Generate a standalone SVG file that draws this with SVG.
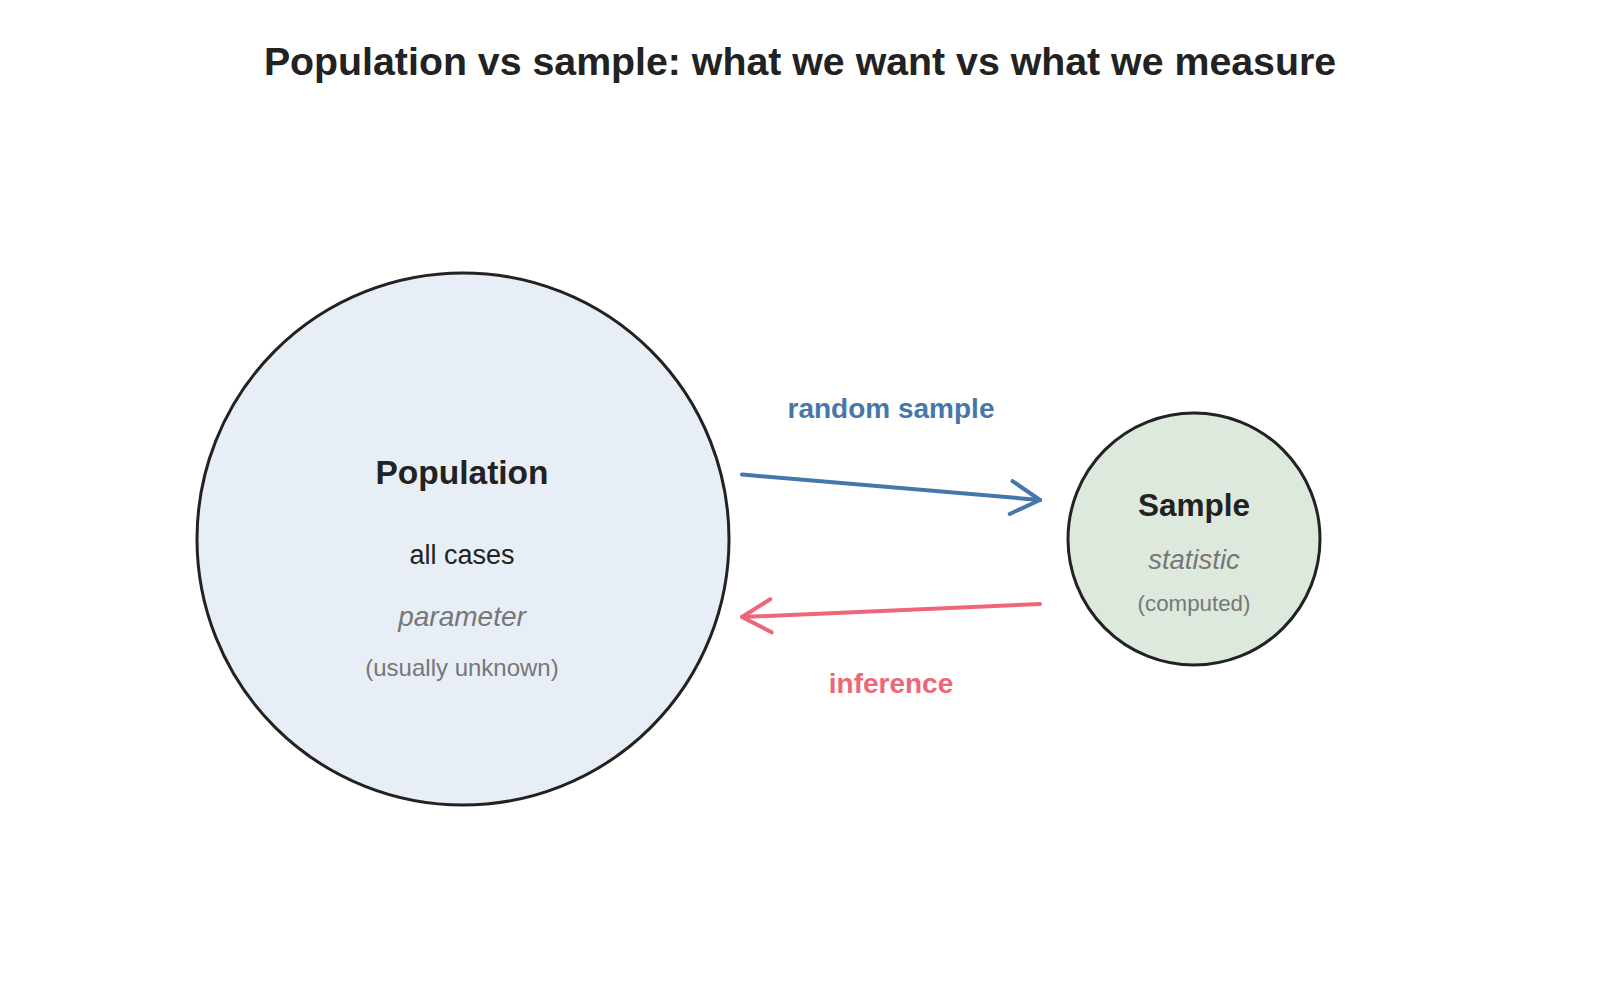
<svg xmlns="http://www.w3.org/2000/svg" width="1600" height="1000" viewBox="0 0 1600 1000">
<style>
text{font-family:"Liberation Sans",Arial,Helvetica,sans-serif;text-anchor:middle}
.title{font-size:39.3px;font-weight:bold;fill:#222}
.node{stroke:#222;stroke-width:3}
.name{font-weight:bold;fill:#222}
.sub{fill:#222}
.it{font-style:italic;fill:#777}
.note{fill:#777}
.edge{fill:none;stroke-width:4;stroke-linecap:round}
.lbl{font-size:28px;font-weight:bold}
</style>
<defs>
<marker id="ab" markerUnits="userSpaceOnUse" markerWidth="40" markerHeight="40" viewBox="-34 -20 40 40" refX="0" refY="0" orient="auto">
<path d="M-29,-16.5 L0,0 L-29,16.5" fill="none" stroke="#4477aa" stroke-width="4" stroke-linecap="round" stroke-linejoin="round"/>
</marker>
<marker id="ar" markerUnits="userSpaceOnUse" markerWidth="40" markerHeight="40" viewBox="-34 -20 40 40" refX="0" refY="0" orient="auto">
<path d="M-29,-16.5 L0,0 L-29,16.5" fill="none" stroke="#ee6677" stroke-width="4" stroke-linecap="round" stroke-linejoin="round"/>
</marker>
</defs>
<rect width="1600" height="1000" fill="#fff"/>
<text class="title" x="800" y="75">Population vs sample: what we want vs what we measure</text>
<g id="population">
<circle class="node" cx="463" cy="539" r="266" fill="#e7eef6"/>
<text class="name" x="462" y="484" font-size="33.5">Population</text>
<text class="sub" x="462" y="564" font-size="27">all cases</text>
<text class="it" x="462" y="626" font-size="28">parameter</text>
<text class="note" x="462" y="676" font-size="24">(usually unknown)</text>
</g>
<g id="sample">
<circle class="node" cx="1194" cy="539" r="126" fill="#dde9dd"/>
<text class="name" x="1194" y="516" font-size="31.5">Sample</text>
<text class="it" x="1194" y="569" font-size="27.5">statistic</text>
<text class="note" x="1194" y="611" font-size="22.3">(computed)</text>
</g>
<g id="connectors">
<line class="edge" x1="742" y1="474.5" x2="1040" y2="500" stroke="#4477aa" marker-end="url(#ab)"/>
<text class="lbl" x="891" y="418" fill="#4477aa">random sample</text>
<line class="edge" x1="1040" y1="604" x2="742" y2="617" stroke="#ee6677" marker-end="url(#ar)"/>
<text class="lbl" x="891" y="693" fill="#ee6677">inference</text>
</g>
</svg>
